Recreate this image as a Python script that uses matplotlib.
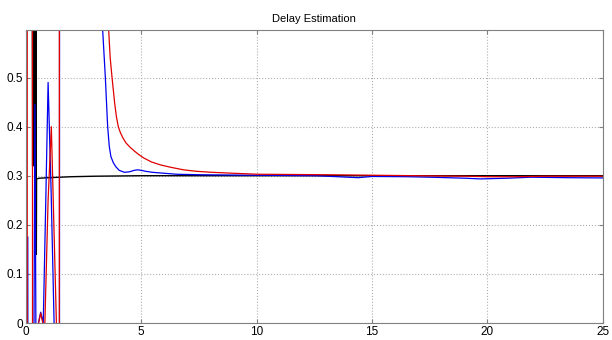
import matplotlib
matplotlib.use("Agg")
import matplotlib.pyplot as plt

# tiempo y estimaciones
t_black = [0.27, 0.30, 0.33, 0.36, 0.39, 0.42, 0.44, 0.46, 0.47,
           0.5, 0.6, 1.0, 2.0, 3.0, 4.0, 5.0, 10.0, 15.0, 20.0, 25.0]
v_black = [1.0, 0.32, 1.0, 0.32, 1.0, 0.14, 1.0, 0.14, 0.293,
           0.294, 0.295, 0.296, 0.298, 0.299, 0.2995, 0.300, 0.300, 0.300, 0.300, 0.300]

t_blue = [0.09, 0.10, 0.3, 0.36, 0.40, 0.44, 0.47, 0.55, 0.65, 0.76, 0.87, 0.97,
          1.1, 1.23, 1.4, 1.46, 1.47, 3.25, 3.33, 3.45, 3.55, 3.62, 3.69, 3.8,
          3.91, 4.05, 4.27, 4.5, 4.7, 4.84, 5.0, 5.2, 5.48, 6.0, 6.54, 7.5,
          10.0, 12.6, 13.5, 14.4, 15.0, 16.5, 17.5, 19.0, 19.7, 20.9, 21.9, 23.5, 25.0]
v_blue = [0.175, -0.5, -0.2, 0.0, 0.445, 0.0, -0.1, 0.0, 0.022, 0.0, 0.25, 0.49,
          0.27, 0.0, -2.0, -4.0, 5.0, 0.75, 0.60, 0.50, 0.40, 0.36, 0.339, 0.326,
          0.318, 0.311, 0.307, 0.308, 0.311, 0.312, 0.311, 0.309, 0.307, 0.305, 0.303, 0.302,
          0.301, 0.300, 0.298, 0.296, 0.2985, 0.298, 0.297, 0.295, 0.2935, 0.295, 0.297, 0.296, 0.2955]

t_red = [0.0, 0.06, 0.07, 0.29, 0.30, 0.45, 0.56, 0.65, 0.74, 0.80, 0.83, 0.97,
         1.11, 1.22, 1.33, 1.45, 1.47, 3.5, 3.59, 3.66, 3.74, 3.86, 3.93, 4.01, 4.1,
         4.2, 4.34, 4.5, 4.69, 4.9, 5.12, 5.45, 5.84, 6.3, 6.84, 7.4, 8.05, 9.0,
         10.07, 13.1, 15.0, 17.0, 19.0, 20.0, 21.2, 22.5, 25.0]
v_red = [-2.0, -3.0, 3.0, 3.0, -3.0, -0.3, 0.0, 0.02, 0.0, -0.02, 0.0, 0.25,
         0.40, 0.2, 0.0, -3.0, 5.0, 0.80, 0.60, 0.54, 0.50, 0.445, 0.42, 0.40, 0.388,
         0.378, 0.367, 0.359, 0.351, 0.343, 0.336, 0.328, 0.322, 0.317, 0.312, 0.309, 0.307, 0.305,
         0.303, 0.302, 0.301, 0.300, 0.299, 0.298, 0.298, 0.299, 0.299]

x_ticks = [0, 5, 10, 15, 20, 25]
y_ticks = [0, 0.1, 0.2, 0.3, 0.4, 0.5]

plt.rcParams['font.family'] = ['Liberation Sans', 'DejaVu Sans']

fig = plt.figure(figsize=(6.12, 3.4), dpi=100)
ax = fig.add_axes([0.042, 0.05, 0.943, 0.862])

ax.plot(t_black, v_black, color='black', lw=1.0)
ax.plot(t_blue, v_blue, color='#0000ee', lw=0.9)
ax.plot(t_red, v_red, color='#e00000', lw=0.9)

ax.set_xlim(0, 25)
ax.set_ylim(0, 0.597)
ax.set_xticks(x_ticks)
ax.set_xticklabels([str(v) for v in x_ticks])
ax.set_yticks(y_ticks)
ax.set_yticklabels(['0', '0.1', '0.2', '0.3', '0.4', '0.5'])
ax.grid(True, color='#b0b0b0', linestyle=':', linewidth=0.8)
ax.tick_params(direction='in', length=3, labelsize=8.5, color='#808080',
               top=True, right=True, pad=2)
for s in ax.spines.values():
    s.set_color('#808080')
ax.set_title('Delay Estimation', fontsize=8, pad=6)

plt.savefig('out.png', dpi=100)
